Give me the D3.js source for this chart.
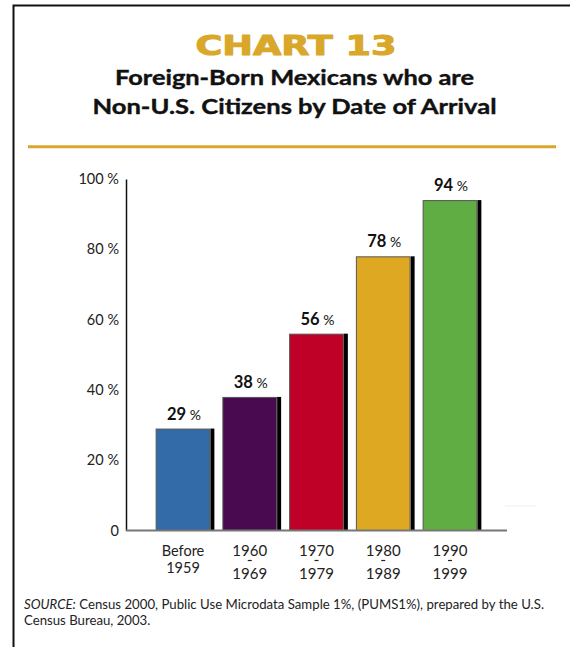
<!DOCTYPE html>
<html>
<head>
<meta charset="utf-8">
<script src="https://cdn.jsdelivr.net/npm/d3@7"></script>
<style>
  html, body { margin: 0; padding: 0; background: #fff; }
  svg { display: block; }
</style>
</head>
<body>
<svg id="chart" width="570" height="647"></svg>
<script>
// ---- data ----
const categories = ["Before 1959", "1960-1969", "1970-1979", "1980-1989", "1990-1999"];
const categoryTop = ["Before", "1960", "1970", "1980", "1990"];
const categoryBottom = ["1959", "1969", "1979", "1989", "1999"];
const categoryDash = [false, true, true, true, true];
const values = [29, 38, 56, 78, 94];
const barColors = ["#336ba8", "#4a0a50", "#bf0027", "#dea823", "#60ad43"];
const yTicks = [0, 20, 40, 60, 80, 100];
const yTickLabels = ["0", "20 %", "40 %", "60 %", "80 %", "100 %"];
const chartTitle = "CHART 13";
const subtitleLines = ["Foreign-Born Mexicans who are", "Non-U.S. Citizens by Date of Arrival"];
const sourceItalic = "SOURCE:";
const sourceLines = [" Census 2000, Public Use Microdata Sample 1%, (PUMS1%), prepared by the U.S.", "Census Bureau, 2003."];

const FONT = "Lato, 'Noto Sans', sans-serif";
const svg = d3.select("#chart");

// frame
svg.append("path")
  .attr("d", "M13.5,647 L13.5,5.5 L570,5.5")
  .attr("fill", "none").attr("stroke", "#111").attr("stroke-width", 2);

// title
svg.append("text")
  .attr("x", 296).attr("y", 54.5)
  .attr("text-anchor", "middle")
  .attr("font-family", "'DejaVu Sans', Arial, sans-serif")
  .attr("font-weight", 900)
  .attr("font-size", 27)
  .attr("fill", "#d9a82b")
  .attr("stroke", "#d9a82b").attr("stroke-width", 1.1).attr("stroke-linejoin", "round")
  .attr("textLength", 201).attr("lengthAdjust", "spacingAndGlyphs")
  .text(chartTitle);

// subtitle
const subW = [359, 404];
subtitleLines.forEach((s, i) => {
  svg.append("text")
    .attr("x", 294.5).attr("y", 85 + i * 28.5)
    .attr("text-anchor", "middle")
    .attr("font-family", FONT)
    .attr("font-weight", 700)
    .attr("font-size", 21.5)
    .attr("fill", "#111")
    .attr("stroke", "#111").attr("stroke-width", 0.4)
    .attr("textLength", subW[i]).attr("lengthAdjust", "spacingAndGlyphs")
    .text(s);
});

// gold rule
svg.append("line")
  .attr("x1", 28).attr("x2", 556).attr("y1", 146.7).attr("y2", 146.7)
  .attr("stroke", "#d9a82b").attr("stroke-width", 3);

// scales
const x0 = 126, x1 = 507;
const x = d3.scaleBand().domain(categories).range([x0, x1]).paddingInner(0.18).paddingOuter(0.444);
const y = d3.scaleLinear().domain([0, 100]).range([530.5, 179]);

// y axis
const yAxis = svg.append("g")
  .attr("transform", `translate(${x0},0)`)
  .call(d3.axisLeft(y).tickValues(yTicks).tickFormat((d, i) => yTickLabels[i]).tickSize(0).tickPadding(7));
yAxis.select(".domain").attr("stroke", "#111").attr("stroke-width", 1.5);
yAxis.selectAll("text")
  .attr("font-family", FONT).attr("font-size", 14.5).attr("fill", "#222");

// faint artifact line
svg.append("line")
  .attr("x1", 505).attr("x2", 536).attr("y1", 506).attr("y2", 506)
  .attr("stroke", "#eeeeee").attr("stroke-width", 1);

// bars: shadow + bar
const shadowW = 4;
const g = svg.append("g");
g.selectAll("rect.shadow").data(values).join("rect")
  .attr("class", "shadow")
  .attr("x", (d, i) => x(categories[i]) + x.bandwidth())
  .attr("y", d => y(d))
  .attr("width", shadowW)
  .attr("height", d => y(0) - y(d))
  .attr("fill", "#000");
g.selectAll("rect.bar").data(values).join("rect")
  .attr("class", "bar")
  .attr("x", (d, i) => x(categories[i]) + 0.5)
  .attr("y", d => y(d) + 0.5)
  .attr("width", x.bandwidth() - 1)
  .attr("height", d => y(0) - y(d) - 0.5)
  .attr("fill", (d, i) => barColors[i])
  .attr("stroke", "#555").attr("stroke-width", 1);

// x axis line
svg.append("line")
  .attr("x1", x0).attr("x2", x1).attr("y1", y(0)).attr("y2", y(0))
  .attr("stroke", "#777").attr("stroke-width", 2);

// value labels
values.forEach((v, i) => {
  const cx = x(categories[i]) + x.bandwidth() / 2 + 1;
  const txt = svg.append("text")
    .attr("x", cx).attr("y", y(v) - 9)
    .attr("text-anchor", "middle")
    .attr("font-family", FONT).attr("fill", "#111");
  txt.append("tspan").attr("font-weight", 700).attr("font-size", 16.5).text(v);
  txt.append("tspan").attr("font-weight", 400).attr("font-size", 14).text(" %");
});

// category labels
categories.forEach((c, i) => {
  const cx = x(c) + x.bandwidth() / 2;
  const dash = categoryDash[i];
  svg.append("text")
    .attr("x", cx).attr("y", 555.5)
    .attr("text-anchor", "middle")
    .attr("font-family", FONT).attr("font-size", dash ? 15 : 14.5).attr("fill", "#222")
    .text(categoryTop[i]);
  svg.append("text")
    .attr("x", cx).attr("y", dash ? 579 : 573)
    .attr("text-anchor", "middle")
    .attr("font-family", FONT).attr("font-size", dash ? 15 : 14.5).attr("fill", "#222")
    .text(categoryBottom[i]);
  if (dash) {
    // small range separator between the two years
    svg.append("line")
      .attr("x1", cx - 2).attr("x2", cx + 2)
      .attr("y1", 560.5).attr("y2", 560.5)
      .attr("stroke", "#222").attr("stroke-width", 1.2);
  }
});

// source
const s1 = svg.append("text")
  .attr("x", 24).attr("y", 609)
  .attr("font-family", FONT).attr("font-size", 13.2).attr("fill", "#222")
  .attr("textLength", 520).attr("lengthAdjust", "spacing");
s1.append("tspan").attr("font-style", "italic").text(sourceItalic);
s1.append("tspan").text(sourceLines[0]);
svg.append("text")
  .attr("x", 24).attr("y", 625)
  .attr("font-family", FONT).attr("font-size", 13.2).attr("fill", "#222")
  .text(sourceLines[1]);
</script>
</body>
</html>
